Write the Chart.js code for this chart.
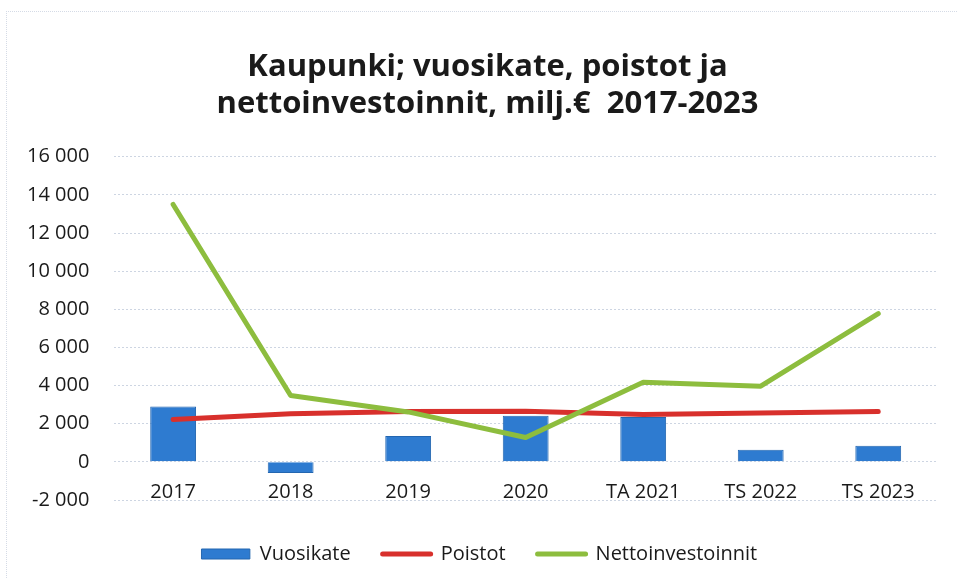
<!DOCTYPE html>
<html>
<head>
<meta charset="utf-8">
<script src="https://cdn.jsdelivr.net/npm/chart.js@4/dist/chart.umd.min.js"></script>
<style>
  html, body { margin: 0; padding: 0; background: #fff; }
  body { width: 957px; height: 578px; position: relative; overflow: hidden; }
  #frame { position: absolute; left: 6px; top: 11px; width: 1000px; height: 1000px;
           border-left: 1px dotted #d5dbe6; border-top: 1px dotted #d5dbe6; }
  #wrap { position: absolute; left: 0; top: 0; width: 957px; height: 578px; }
</style>
</head>
<body>
<div id="frame"></div>
<div id="wrap"><canvas id="c"></canvas></div>
<script>
// Kaupunki; vuosikate, poistot ja nettoinvestoinnit 2017-2023
const categories = ['2017', '2018', '2019', '2020', 'TA 2021', 'TS 2022', 'TS 2023'];
const vuosikate = [2900, -580, 1350, 2420, 2350, 640, 850];
const poistot = [2220, 2520, 2640, 2650, 2480, 2560, 2640];
const nettoinvestoinnit = [13500, 3480, 2620, 1280, 4180, 3970, 7780];
const titleLines = ['Kaupunki; vuosikate, poistot ja', 'nettoinvestoinnit, milj.€  2017-2023'];

const FONT = '"Open Sans", Lato, sans-serif';
const TEXT = '#1a1a1a';
const BLUE = '#2e7bd0';
const RED = '#d8302c';
const GREEN = '#8dbd3e';

function fmt(v) {
  // "16 000", "-2 000"
  const s = String(Math.abs(v)).replace(/\B(?=(\d{3})+(?!\d))/g, ' ');
  return (v < 0 ? '-' : '') + s;
}

// category labels sit just under the zero line, between 0 and -2000 (Excel style)
const categoryLabels = {
  id: 'categoryLabels',
  afterDraw(chart) {
    const c = chart.ctx;
    const xs = chart.scales.x;
    const ys = chart.scales.y;
    const y = ys.getPixelForValue(ys.min) - 8;
    c.save();
    c.fillStyle = TEXT;
    c.font = '20px ' + FONT;
    c.textAlign = 'center';
    c.textBaseline = 'middle';
    categories.forEach((lbl, i) => {
      c.fillText(lbl, xs.getPixelForTick(i), y);
    });
    c.restore();
  }
};

// title and legend are centred a bit right of the canvas middle in the original
const nudgeBoxes = {
  id: 'nudgeBoxes',
  afterLayout(chart) {
    const t = chart.titleBlock;
    if (t) { t.left += 18; t.right += 18; }
    const l = chart.legend;
    if (l) { l.left += 10; l.right += 10; l.top += 4; l.bottom += 4; }
  }
};

const ctx = document.getElementById('c').getContext('2d');
new Chart(ctx, {
  type: 'bar',
  data: {
    labels: categories,
    datasets: [
      {
        type: 'bar',
        label: 'Vuosikate',
        data: vuosikate,
        backgroundColor: BLUE,
        borderColor: '#2366b0',
        borderWidth: 1,
        barPercentage: 0.39,
        categoryPercentage: 1,
        order: 3
      },
      {
        type: 'line',
        label: 'Poistot',
        data: poistot,
        borderColor: RED,
        backgroundColor: RED,
        borderWidth: 5,
        borderCapStyle: 'round',
        borderJoinStyle: 'round',
        pointRadius: 0,
        tension: 0,
        order: 2
      },
      {
        type: 'line',
        label: 'Nettoinvestoinnit',
        data: nettoinvestoinnit,
        borderColor: GREEN,
        backgroundColor: GREEN,
        borderWidth: 5,
        borderCapStyle: 'round',
        borderJoinStyle: 'round',
        pointRadius: 0,
        tension: 0,
        order: 1
      }
    ]
  },
  options: {
    responsive: true,
    maintainAspectRatio: false,
    animation: false,
    layout: { padding: { left: 2, right: 20, top: 49, bottom: 8 } },
    plugins: {
      title: {
        display: true,
        text: titleLines,
        color: TEXT,
        font: { family: FONT, size: 31, weight: 'bold', lineHeight: 1.19 },
        padding: { top: 0, bottom: 34 }
      },
      legend: {
        position: 'bottom',
        labels: {
          color: TEXT,
          font: { family: FONT, size: 20 },
          usePointStyle: true,
          pointStyleWidth: 48,
          boxHeight: 10,
          padding: 32,
          generateLabels: chart => chart.data.datasets.map((ds, i) => ({
            text: ds.label,
            fillStyle: ds.backgroundColor,
            strokeStyle: ds.borderColor,
            lineWidth: ds.type === 'bar' ? 1 : 5,
            lineCap: 'round',
            pointStyle: ds.type === 'bar' ? 'rect' : 'line',
            fontColor: TEXT,
            datasetIndex: i,
            hidden: false
          }))
        }
      },
      tooltip: { enabled: false }
    },
    scales: {
      x: {
        grid: { display: false },
        border: { display: false },
        ticks: { display: false }
      },
      y: {
        min: -2000,
        max: 16000,
        ticks: {
          stepSize: 2000,
          color: TEXT,
          font: { family: FONT, size: 20 },
          padding: 25,
          callback: v => fmt(v)
        },
        grid: { color: '#cdd5e2', lineWidth: 1, drawTicks: false },
        border: { display: false, dash: [2, 2] }
      }
    }
  },
  plugins: [categoryLabels, nudgeBoxes]
});
</script>
</body>
</html>
